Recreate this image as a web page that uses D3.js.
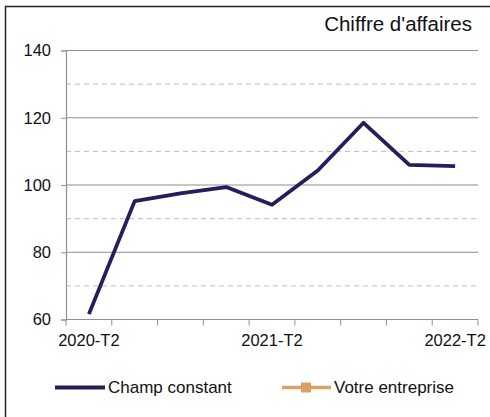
<!DOCTYPE html>
<html>
<head>
<meta charset="utf-8">
<script src="https://cdn.jsdelivr.net/npm/d3@7"></script>
<style>
  body { margin: 0; background: #fff; }
  svg { font-family: "Liberation Sans", Arial, sans-serif; }
</style>
</head>
<body>
<div id="chart"></div>
<script>
// quarters on the x axis, one point per quarter
var quarters = ["2020-T2", "2020-T3", "2020-T4", "2021-T1", "2021-T2",
                "2021-T3", "2021-T4", "2022-T1", "2022-T2"];
var champConstant = [61.6, 95.2, 97.5, 99.4, 94.1, 104.3, 118.5, 106.0, 105.6];
var votreEntreprise = []; // no values reported
var majorTicks = [60, 80, 100, 120, 140];
var minorTicks = [70, 90, 110, 130];
var labelEvery = 4;

var W = 490, H = 417;
var navy = "#231f5a", orange = "#d9a264";

var svg = d3.select("#chart").append("svg")
    .attr("width", W)
    .attr("height", H);

// outer frame (cut by the picture on the right and bottom)
svg.append("rect")
    .attr("x", 5.5).attr("y", 6.5)
    .attr("width", 500).attr("height", 420)
    .attr("fill", "none")
    .attr("stroke", "#222")
    .attr("stroke-width", 1.5);

svg.append("text")
    .attr("x", 472).attr("y", 31)
    .attr("text-anchor", "end")
    .attr("font-size", 20.5)
    .attr("fill", "#111")
    .text("Chiffre d'affaires");

var x = d3.scaleBand().domain(quarters).range([66, 478]);
var y = d3.scaleLinear().domain([60, 140]).range([319.5, 50.5]);

// grid
svg.selectAll(".minor").data(minorTicks).enter().append("line")
    .attr("x1", 66).attr("x2", 478)
    .attr("y1", d => y(d)).attr("y2", d => y(d))
    .attr("stroke", "#bdbdbd")
    .attr("stroke-dasharray", "5,4");

svg.selectAll(".major").data(majorTicks.slice(1)).enter().append("line")
    .attr("x1", 66).attr("x2", 478)
    .attr("y1", d => y(d)).attr("y2", d => y(d))
    .attr("stroke", "#8f8f8f");

// y axis
var yAxis = svg.append("g")
    .attr("transform", "translate(66,0)")
    .call(d3.axisLeft(y).tickValues(majorTicks).tickSize(5).tickPadding(10));
yAxis.select(".domain").attr("stroke", "#8f8f8f").attr("stroke-width", 1.2);
yAxis.selectAll(".tick line").attr("stroke", "#8f8f8f");
yAxis.selectAll(".tick text")
    .attr("font-size", 16.5)
    .attr("fill", "#111")
    .attr("font-family", "Liberation Sans, Arial, sans-serif");

// x axis: ticks on band edges, labels on every 4th band centre
var xg = svg.append("g").attr("transform", "translate(0," + y(60) + ")");
xg.append("line")
    .attr("x1", 66).attr("x2", 478)
    .attr("stroke", "#8f8f8f").attr("stroke-width", 1.2);
var edges = quarters.map(q => x(q)).concat([x(quarters[quarters.length - 1]) + x.bandwidth()]);
xg.selectAll(".xt").data(edges).enter().append("line")
    .attr("x1", d => d).attr("x2", d => d)
    .attr("y1", 0).attr("y2", 6)
    .attr("stroke", "#8f8f8f");
xg.selectAll(".xl").data(quarters.filter((q, i) => i % labelEvery === 0)).enter().append("text")
    .attr("x", d => x(d) + x.bandwidth() / 2)
    .attr("y", 26.5)
    .attr("text-anchor", "middle")
    .attr("font-size", 16.5)
    .attr("fill", "#111")
    .text(d => d);

// series
var line = d3.line()
    .x((d, i) => x(quarters[i]) + x.bandwidth() / 2)
    .y(d => y(d));

svg.append("path")
    .datum(champConstant)
    .attr("d", line)
    .attr("fill", "none")
    .attr("stroke", navy)
    .attr("stroke-width", 3.8)
    .attr("stroke-linejoin", "round");

if (votreEntreprise.length) {
    svg.append("path")
        .datum(votreEntreprise)
        .attr("d", line)
        .attr("fill", "none")
        .attr("stroke", orange)
        .attr("stroke-width", 3);
}

// legend
var legend = svg.append("g");
legend.append("line")
    .attr("x1", 55).attr("x2", 105)
    .attr("y1", 387.5).attr("y2", 387.5)
    .attr("stroke", navy).attr("stroke-width", 4);
legend.append("text")
    .attr("x", 108).attr("y", 393)
    .attr("font-size", 17)
    .attr("fill", "#111")
    .text("Champ constant");

legend.append("line")
    .attr("x1", 282).attr("x2", 331)
    .attr("y1", 387.5).attr("y2", 387.5)
    .attr("stroke", orange).attr("stroke-width", 3.5);
legend.append("rect")
    .attr("x", 301).attr("y", 382.5)
    .attr("width", 10).attr("height", 10)
    .attr("fill", orange);
legend.append("text")
    .attr("x", 334).attr("y", 393)
    .attr("font-size", 17)
    .attr("fill", "#111")
    .text("Votre entreprise");
</script>
</body>
</html>
